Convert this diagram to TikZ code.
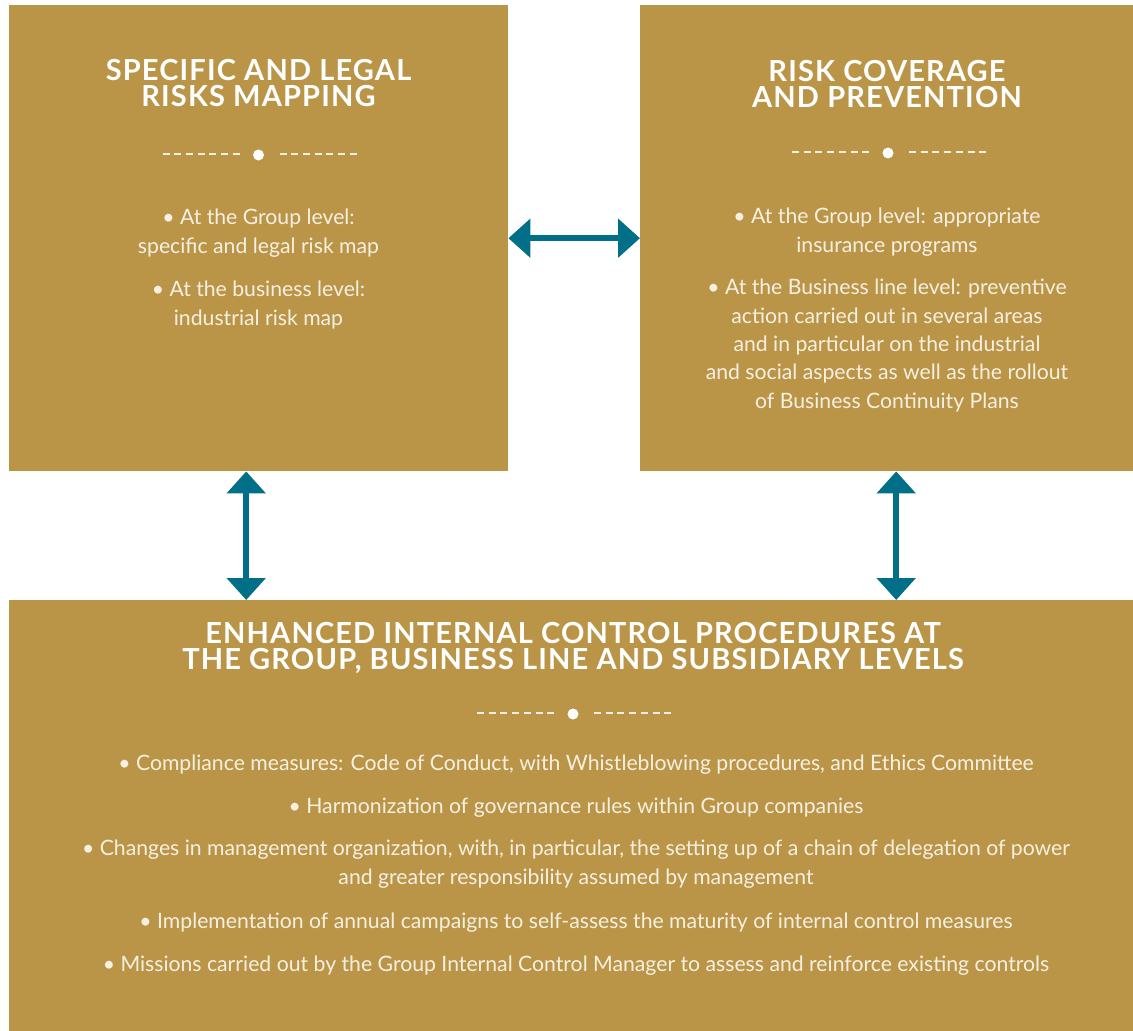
\documentclass[tikz,border=0pt]{standalone}
\usepackage{fontspec}
\setmainfont{Lato}
\usetikzlibrary{arrows.meta}
\definecolor{gold}{RGB}{187,149,71}
\definecolor{teal}{RGB}{0,111,135}
\definecolor{cream}{RGB}{246,240,226}
\tikzset{
  box/.style={fill=gold, draw=none, inner sep=0pt, anchor=north west},
  ttl/.style={text=white, align=center, anchor=base, inner sep=0pt, font=\fontsize{29}{25.5}\selectfont\bfseries\addfontfeature{LetterSpace=4}},
  body/.style={text=cream, align=center, anchor=base, inner sep=0pt, font=\fontsize{21.2}{28.3}\selectfont},
  dbl/.style={draw=teal, line width=6pt, {Triangle[length=22pt,width=38pt]}-{Triangle[length=22pt,width=38pt]}},
  sepline/.style={draw=cream, line width=2.5pt, dash pattern=on 7pt off 4.7pt},
}
\newcommand{\sepmark}[2]{%
  \draw[sepline] (#1-96,#2) -- (#1-18.8,#2);
  \draw[sepline] (#1+21,#2) -- (#1+98.2,#2);
  \fill[white] (#1,#2+1) circle (5.5pt);
}
\begin{document}
\begin{tikzpicture}[x=1pt,y=-1pt]
\useasboundingbox (0,0) rectangle (1133,1031);
% boxes
\node[box, minimum width=499pt, minimum height=466pt] (tl) at (9,5) {};
\node[box, minimum width=493pt, minimum height=466pt] (tr) at (640,5) {};
\node[box, minimum width=1124pt, minimum height=431pt] (bt) at (9,600) {};
% arrows
\draw[dbl] (tl.east) -- (tr.west);
\draw[dbl] ([xshift=-12.5pt]tl.south) -- ([xshift=-12.5pt]tl.south |- bt.north);
\draw[dbl] ([xshift=9.5pt]tr.south) -- ([xshift=9.5pt]tr.south |- bt.north);
% top-left
\node[ttl] (t1) at (258.5,106) {SPECIFIC AND LEGAL\\RISKS MAPPING};
\sepmark{258.5}{154}
\node[body] (b11) at (258.5,253) {\textbullet\ At the Group level:\\specific and legal risk map};
\node[body] (b12) at (258.5,325) {\textbullet\ At the business level:\\industrial risk map};
% top-right
\node[ttl] (t2) at (887,107) {RISK COVERAGE\\AND PREVENTION};
\sepmark{888}{152}
\node[body] (b21) at (887,252) {\textbullet\ At the Group level: appropriate\\insurance programs};
\node[body] (b22) at (887,408) {\textbullet\ At the Business line level: preventive\\action carried out in several areas\\and in particular on the industrial\\and social aspects as well as the rollout\\of Business Continuity Plans};
% bottom
\node[ttl] (t3) at (573,669) {ENHANCED INTERNAL CONTROL PROCEDURES AT\\THE GROUP, BUSINESS LINE AND SUBSIDIARY LEVELS};
\sepmark{573}{713}
\node[body] (b31) at (576,770) {\textbullet\ Compliance measures: Code of Conduct, with Whistleblowing procedures, and Ethics Committee};
\node[body] (b32) at (576,813) {\textbullet\ Harmonization of governance rules within Group companies};
\node[body] (b33) at (576,884) {\textbullet\ Changes in management organization, with, in particular, the setting up of a chain of delegation of power\\and greater responsibility assumed by management};
\node[body] (b34) at (576,928) {\textbullet\ Implementation of annual campaigns to self-assess the maturity of internal control measures};
\node[body] (b35) at (576,971) {\textbullet\ Missions carried out by the Group Internal Control Manager to assess and reinforce existing controls};
\end{tikzpicture}
\end{document}
